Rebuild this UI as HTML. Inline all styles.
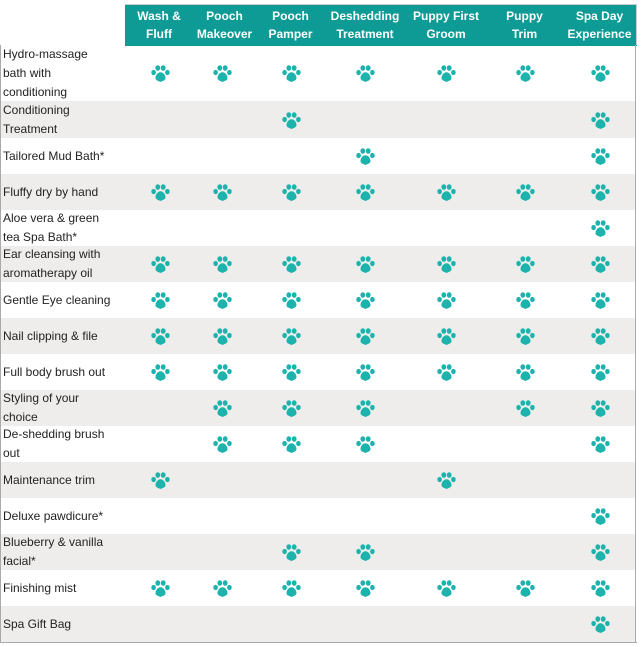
<!DOCTYPE html>
<html><head><meta charset="utf-8"><style>
body{margin:0;width:641px;height:647px;background:#fff;position:relative;font-family:"Century Gothic","Liberation Sans",sans-serif;overflow:hidden}
.hd{position:absolute;left:125px;top:4px;width:512px;height:41px;background:#0e9a95;border-top:1px solid #ccc}
.hc{position:absolute;top:4px;height:41px;display:flex;align-items:center;justify-content:center;text-align:center;color:#fff;font-weight:bold;font-size:12px;line-height:18px}
.row{position:absolute;left:0;width:636px;border-left:1px solid #aaa;border-right:1px solid #aaa;box-sizing:border-box}
.g{background:#eeedeb}
.lb{position:absolute;left:3px;font-size:12px;line-height:19px;color:#222;display:flex;align-items:center}
svg.p{position:absolute;width:19px;height:17px}
</style></head><body>
<svg width="0" height="0" style="position:absolute"><defs><g id="paw" fill="#1cb3ac"><ellipse cx="2.6" cy="7.5" rx="2.3" ry="2.6"/><ellipse cx="6.8" cy="3" rx="2.4" ry="2.8"/><ellipse cx="12.2" cy="3" rx="2.4" ry="2.8"/><ellipse cx="16.4" cy="7.5" rx="2.3" ry="2.6"/><path d="M9.5 7.3C6.8 7.3 4.5 10.5 4.5 13c0 2.6 2.8 2.8 5 4 2.2-1.2 5-1.4 5-4 0-2.5-2.3-5.7-5-5.7z"/></g></defs></svg>
<div class="hd"></div>
<div class="hc" style="left:125px;width:68px">Wash &amp;<br>Fluff</div>
<div class="hc" style="left:193px;width:63px">Pooch<br>Makeover</div>
<div class="hc" style="left:256px;width:69px">Pooch<br>Pamper</div>
<div class="hc" style="left:325px;width:80px">Deshedding<br>Treatment</div>
<div class="hc" style="left:405px;width:82px">Puppy First<br>Groom</div>
<div class="hc" style="left:487px;width:75px">Puppy<br>Trim</div>
<div class="hc" style="left:562px;width:75px">Spa Day<br>Experience</div>
<div id="t"></div>
<div style="position:absolute;left:0;top:642px;width:637px;height:1px;background:#aaa"></div>
<div style="position:absolute;left:636px;top:4px;width:1px;height:41px;background:#ccc"></div>
<script>
var rows=[["Hydro-massage<br>bath with<br>conditioning",[1,1,1,1,1,1,1]],
["Conditioning<br>Treatment",[0,0,1,0,0,0,1]],
["Tailored Mud Bath*",[0,0,0,1,0,0,1]],
["Fluffy dry by hand",[1,1,1,1,1,1,1]],
["Aloe vera &amp; green<br>tea Spa Bath*",[0,0,0,0,0,0,1]],
["Ear cleansing with<br>aromatherapy oil",[1,1,1,1,1,1,1]],
["Gentle Eye cleaning",[1,1,1,1,1,1,1]],
["Nail clipping &amp; file",[1,1,1,1,1,1,1]],
["Full body brush out",[1,1,1,1,1,1,1]],
["Styling of your<br>choice",[0,1,1,1,0,1,1]],
["De-shedding brush<br>out",[0,1,1,1,0,0,1]],
["Maintenance trim",[1,0,0,0,1,0,0]],
["Deluxe pawdicure*",[0,0,0,0,0,0,1]],
["Blueberry &amp; vanilla<br>facial*",[0,0,1,1,0,0,1]],
["Finishing mist",[1,1,1,1,1,1,1]],
["Spa Gift Bag",[0,0,0,0,0,0,1]]];
var cx=[160,222,291,365,446,525,600],h="",y=45;
rows.forEach(function(r,i){var hh=i==0?56:(i==1?37:36);
h+='<div class="row'+(i%2?' g':'')+'" style="top:'+y+'px;height:'+hh+'px"></div>';
h+='<div class="lb" style="top:'+y+'px;height:'+hh+'px">'+'<span>'+r[0]+'</span></div>';
r[1].forEach(function(v,j){if(v)h+='<svg class="p" viewBox="0 0 19 17" style="left:'+(cx[j]-9.5)+'px;top:'+(y+hh/2-8)+'px"><use href="#paw"/></svg>';});
y+=hh;});
document.getElementById('t').innerHTML=h;
</script>
</body></html>
